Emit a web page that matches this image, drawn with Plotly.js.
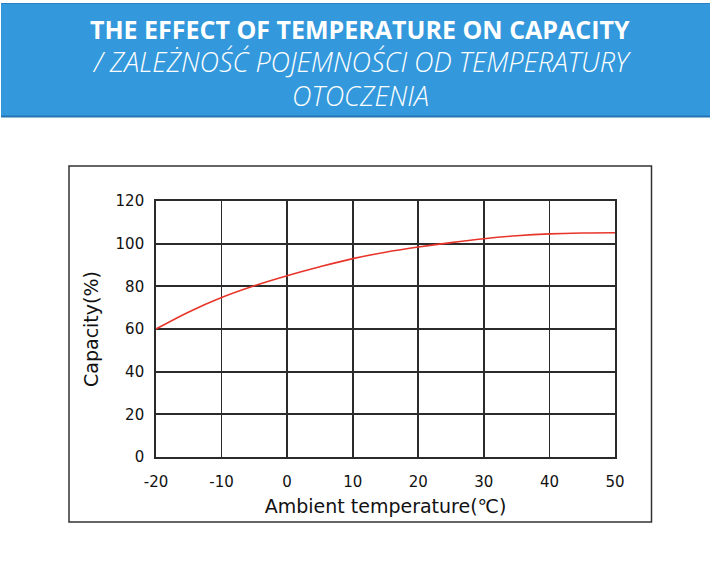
<!DOCTYPE html>
<html>
<head>
<meta charset="utf-8">
<script src="https://cdn.plot.ly/plotly-3.0.1.min.js"></script>
<style>html,body{margin:0;padding:0;background:#fff}#chart{width:713px;height:568px}</style>
</head>
<body>
<div id="chart"></div>
<script>
const temperature = [-20, -15, -10, -5, 0, 5, 10, 15, 20, 25, 30, 35, 40, 45, 50];
const capacity = [60, 68, 74.8, 80.3, 85, 89.2, 93, 96, 98.4, 100.5, 102.3, 103.7, 104.6, 105, 105.1];
const xTicks = [-20, -10, 0, 10, 20, 30, 40, 50];
const xTickLabels = ["-20", "-10", "0", "10", "20", "30", "40", "50"];
const yTicks = [0, 20, 40, 60, 80, 100, 120];
const yTickLabels = ["0", "20", "40", "60", "80", "100", "120"];
const titleLine1 = "THE EFFECT OF TEMPERATURE ON CAPACITY";
const titleLine2 = "/ ZALEŻNOŚĆ POJEMNOŚCI OD TEMPERATURY";
const titleLine3 = "OTOCZENIA";
const xTitle = "Ambient temperature(℃)";
const yTitle = "Capacity(%)";

const W = 713, H = 568;
const m = {l: 156, r: 98, t: 201, b: 111};
const pw = W - m.l - m.r, ph = H - m.t - m.b;
const px = x => (x - m.l) / pw;
const py = y => (H - m.b - y) / ph;

const axisFont = 'DejaVu Sans, Verdana, sans-serif';
const gridStyle = {showgrid: true, gridcolor: '#2b2b2b', gridwidth: 1.8, zeroline: false,
  showline: true, linecolor: '#2b2b2b', linewidth: 1.8, mirror: true, ticks: '',
  tickfont: {family: axisFont, size: 15, color: '#111'}};

const trace = {x: temperature, y: capacity, type: 'scatter', mode: 'lines',
  line: {color: '#e8352b', width: 1.6, shape: 'spline'}, hoverinfo: 'skip'};

const layout = {
  width: W, height: H, margin: m, showlegend: false,
  paper_bgcolor: '#ffffff', plot_bgcolor: '#ffffff',
  xaxis: Object.assign({}, gridStyle, {range: [-20, 50], tickvals: xTicks, ticktext: xTickLabels, ticklabelstandoff: 10,
    title: {text: xTitle, font: {family: axisFont, size: 19, color: '#111'}, standoff: 10}}),
  yaxis: Object.assign({}, gridStyle, {range: [0, 120], tickvals: yTicks, ticktext: yTickLabels, ticklabelstandoff: 7,
    title: {text: yTitle, font: {family: axisFont, size: 19, color: '#111'}, standoff: 12}}),
  shapes: [
    {type: 'rect', xref: 'paper', yref: 'paper', x0: px(1), x1: px(710), y0: py(3), y1: py(117),
      fillcolor: '#3399dc', line: {width: 0}, layer: 'below'},
    {type: 'line', xref: 'paper', yref: 'paper', x0: px(1), x1: px(710), y0: py(3.5), y1: py(3.5),
      line: {color: '#2a80c4', width: 1}},
    {type: 'line', xref: 'paper', yref: 'paper', x0: px(1), x1: px(710), y0: py(116.5), y1: py(116.5),
      line: {color: '#2474b3', width: 2}},
    {type: 'rect', xref: 'paper', yref: 'paper', x0: px(69), x1: px(651.5), y0: py(166), y1: py(522),
      line: {color: '#333', width: 1.5}, fillcolor: 'rgba(0,0,0,0)', layer: 'below'}
  ],
  annotations: [
    {text: '<b>' + titleLine1 + '</b>', xref: 'paper', yref: 'paper', x: px(360), y: py(29), showarrow: false,
      xanchor: 'center', yanchor: 'middle', font: {family: 'Open Sans, sans-serif', size: 25, color: '#fff'}},
    {text: '<i>' + titleLine2 + '</i>', xref: 'paper', yref: 'paper', x: px(361), y: py(61), showarrow: false,
      xanchor: 'center', yanchor: 'middle', font: {family: 'Open Sans, sans-serif', size: 27, color: '#fff', weight: 300}},
    {text: '<i>' + titleLine3 + '</i>', xref: 'paper', yref: 'paper', x: px(360), y: py(95), showarrow: false,
      xanchor: 'center', yanchor: 'middle', font: {family: 'Open Sans, sans-serif', size: 27, color: '#fff', weight: 300}}
  ]
};

Plotly.newPlot('chart', [trace], layout, {displayModeBar: false, staticPlot: true});
</script>
</body>
</html>
